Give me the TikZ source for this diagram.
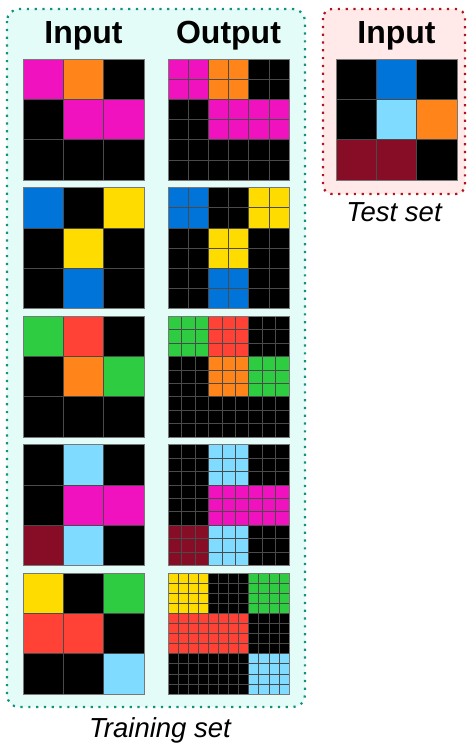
\documentclass[tikz,border=0pt]{standalone}
\usepackage{fontspec}
\setmainfont{Liberation Sans}
\usetikzlibrary{positioning}

\definecolor{arcmagenta}{HTML}{F012BE}
\definecolor{arcorange}{HTML}{FF851B}
\definecolor{arcblue}{HTML}{0074D9}
\definecolor{arcyellow}{HTML}{FFDC00}
\definecolor{arcgreen}{HTML}{2ECC40}
\definecolor{arcred}{HTML}{FF4136}
\definecolor{arcsky}{HTML}{7FDBFF}
\definecolor{arcmaroon}{HTML}{870C25}
\definecolor{trainfill}{HTML}{E3FCF8}
\definecolor{traindot}{HTML}{14907F}
\definecolor{testfill}{HTML}{FFE9E9}
\definecolor{testdot}{HTML}{B0141E}
\definecolor{gridgray}{HTML}{4A4A4A}

\def\cellsz{40.33}
% 3x3 grid at top-left (#1,#2), every cell cut into #3 x #3, colours row by row in #4
\newcommand{\arcgrid}[4]{%
  \begin{scope}[shift={(#1,#2)}]
    \foreach \c [count=\i from 0] in {#4} {
      \pgfmathtruncatemacro{\gr}{floor(\i/3)}
      \pgfmathtruncatemacro{\gc}{mod(\i,3)}
      \fill[\c] (\gc*\cellsz,\gr*\cellsz) rectangle ++(\cellsz,\cellsz);
    }
    \pgfmathtruncatemacro{\nsub}{3*#3-1}
    \foreach \k in {1,...,\nsub} {
      \draw[gridline] (\k*\cellsz/#3,0) -- ++(0,3*\cellsz);
      \draw[gridline] (0,\k*\cellsz/#3) -- ++(3*\cellsz,0);
    }
    \draw[gridframe] (0,0) rectangle (3*\cellsz,3*\cellsz);
  \end{scope}}

\begin{document}
\begin{tikzpicture}[x=1pt,y=-1pt,
    gridline/.style={draw=gridgray,line width=0.55pt},
    gridframe/.style={draw={rgb,255:red,120;green,120;blue,120},line width=0.8pt},
    title/.style={font=\fontsize{32}{36}\selectfont\bfseries,anchor=base},
    setlabel/.style={font=\fontsize{27.5}{32}\selectfont\itshape,anchor=base}]
  \useasboundingbox (0,0) rectangle (466,744);
  % boxes
  \draw[fill=trainfill,draw=traindot,line width=2.2pt,dash pattern=on 2.2pt off 5.6pt,
        rounded corners=12pt] (7,9) rectangle (305,707);
  \draw[fill=testfill,draw=testdot,line width=2.2pt,dash pattern=on 2.2pt off 5.6pt,
        rounded corners=9pt] (323,9) rectangle (465,194);
  % titles
  \node[title] (inTitle) at (83.5,43) {Input};
  \node[title] (outTitle) at (228.5,43) {Output};
  \node[title] (testTitle) at (396.5,43) {Input};
  \node[setlabel] (trainLabel) at (160,737) {Training set};
  \node[setlabel] (testLabel) at (394,221) {Test set};
  % training pairs
  \arcgrid{23}{59}{1}{arcmagenta,arcorange,black,black,arcmagenta,arcmagenta,black,black,black}
  \arcgrid{168}{59}{2}{arcmagenta,arcorange,black,black,arcmagenta,arcmagenta,black,black,black}
  \arcgrid{23}{187.5}{1}{arcblue,black,arcyellow,black,arcyellow,black,black,arcblue,black}
  \arcgrid{168}{187.5}{2}{arcblue,black,arcyellow,black,arcyellow,black,black,arcblue,black}
  \arcgrid{23}{316}{1}{arcgreen,arcred,black,black,arcorange,arcgreen,black,black,black}
  \arcgrid{168}{316}{3}{arcgreen,arcred,black,black,arcorange,arcgreen,black,black,black}
  \arcgrid{23}{444.5}{1}{black,arcsky,black,black,arcmagenta,arcmagenta,arcmaroon,arcsky,black}
  \arcgrid{168}{444.5}{3}{black,arcsky,black,black,arcmagenta,arcmagenta,arcmaroon,arcsky,black}
  \arcgrid{23}{573}{1}{arcyellow,black,arcgreen,arcred,arcred,black,black,black,arcsky}
  \arcgrid{168}{573}{4}{arcyellow,black,arcgreen,arcred,arcred,black,black,black,arcsky}
  % test input
  \arcgrid{336}{59}{1}{black,arcblue,black,black,arcsky,arcorange,arcmaroon,arcmaroon,black}
\end{tikzpicture}
\end{document}
